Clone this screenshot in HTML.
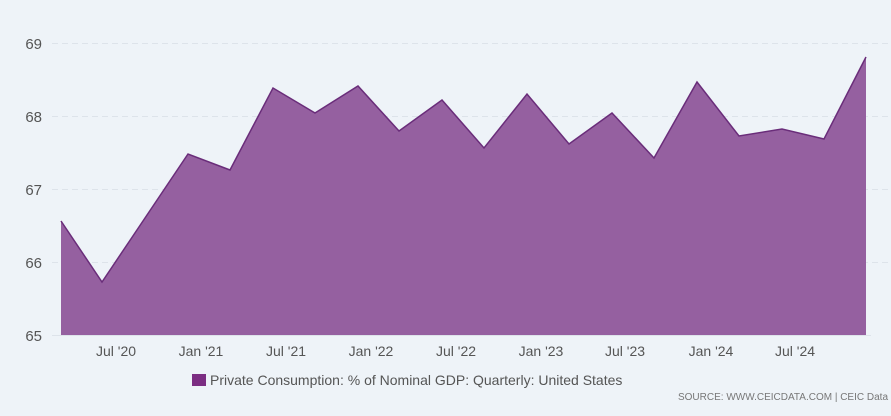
<!DOCTYPE html>
<html><head><style>
html,body{margin:0;padding:0;background:#eef3f8;}
svg{display:block;font-family:"Liberation Sans Narrow","Liberation Sans",sans-serif;}
</style></head><body>
<svg width="891" height="416" viewBox="0 0 891 416" xmlns="http://www.w3.org/2000/svg">
<rect width="891" height="416" fill="#eef3f8"/>
<g stroke="#dde3ea" stroke-dasharray="6,4" stroke-width="1">
<line x1="52" y1="43.5" x2="891" y2="43.5"/>
<line x1="52" y1="116.5" x2="891" y2="116.5"/>
<line x1="52" y1="189.5" x2="891" y2="189.5"/>
<line x1="52" y1="262.5" x2="891" y2="262.5"/>
</g>
<line x1="52" y1="335.5" x2="871" y2="335.5" stroke="#dde3ea"/>
<g font-size="15" fill="#555" text-anchor="end">
<text x="42" y="49">69</text><text x="42" y="122">68</text><text x="42" y="195">67</text><text x="42" y="268">66</text><text x="42" y="341">65</text>
</g>
<polygon fill="#9560a0" points="61,335 61,221 102,282 145,218 188,154 230,170 273,88 315,113 358,86 399,131 442,100 484,148 527,94 569,144 612,113 654,158 697,82 739,136 782,129 824,139 866,57 866,335"/>
<polyline fill="none" stroke="#6a2d7a" stroke-width="1.5" points="61,221 102,282 145,218 188,154 230,170 273,88 315,113 358,86 399,131 442,100 484,148 527,94 569,144 612,113 654,158 697,82 739,136 782,129 824,139 866,57"/>
<g font-size="14" fill="#555" text-anchor="middle">
<text x="116" y="356">Jul '20</text><text x="201" y="356">Jan '21</text><text x="286" y="356">Jul '21</text><text x="371" y="356">Jan '22</text><text x="456" y="356">Jul '22</text><text x="541" y="356">Jan '23</text><text x="625" y="356">Jul '23</text><text x="711" y="356">Jan '24</text><text x="795" y="356">Jul '24</text>
</g>
<rect x="192" y="374" width="14" height="12" fill="#7b2d82"/>
<text x="210" y="385" font-size="14" fill="#555">Private Consumption: % of Nominal GDP: Quarterly: United States</text>
<text x="888" y="400" font-size="10" fill="#777" text-anchor="end">SOURCE: WWW.CEICDATA.COM | CEIC Data</text>
</svg>
</body></html>
